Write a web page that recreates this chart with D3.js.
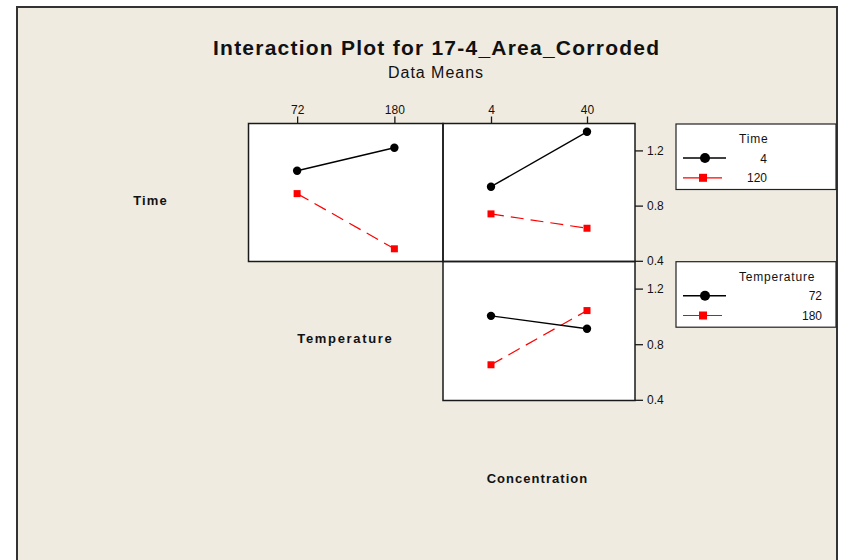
<!DOCTYPE html>
<html>
<head>
<meta charset="utf-8">
<script src="https://cdn.jsdelivr.net/npm/d3@7"></script>
<style>
  body { margin: 0; background: #ffffff; }
  text { font-family: "Liberation Sans", Arial, sans-serif; fill: #111; }
</style>
</head>
<body>
<script>
// ---- Data ----
const timeLevels = ["4", "120"];
const tempLevels = ["72", "180"];
const concLevels = ["4", "40"];
const yTicks = [0.4, 0.8, 1.2];

// Time x Temperature means (rows: Time levels, values at Temperature levels)
const timeByTemp_4   = [1.053, 1.219];
const timeByTemp_120 = [0.887, 0.487];
// Time x Concentration means
const timeByConc_4   = [0.937, 1.335];
const timeByConc_120 = [0.740, 0.636];
// Temperature x Concentration means
const tempByConc_72  = [1.004, 0.911];
const tempByConc_180 = [0.652, 1.042];

const title = "Interaction Plot for 17-4_Area_Corroded";
const subtitle = "Data Means";
const factorNames = ["Time", "Temperature", "Concentration"];

// ---- Layout ----
const W = 855, H = 560;
const beige = "#EFEBE1";
const colEdges = [248.5, 443, 635];
const rowEdges = [123.5, 261.5, 400.5];

const svg = d3.select("body").append("svg").attr("width", W).attr("height", H);

svg.append("rect").attr("x", 17).attr("y", 7).attr("width", 820).attr("height", 600)
  .attr("fill", beige).attr("stroke", "#333").attr("stroke-width", 2);

svg.append("text").attr("x", 436).attr("y", 55).attr("text-anchor", "middle")
  .attr("font-size", 21).attr("font-weight", "bold")
  .attr("textLength", 446).attr("lengthAdjust", "spacing").text(title);
svg.append("text").attr("x", 435.5).attr("y", 78).attr("text-anchor", "middle")
  .attr("font-size", 16).attr("textLength", 95).attr("lengthAdjust", "spacing").text(subtitle);

// Scales
const xTemp = d3.scalePoint().domain(tempLevels).range([colEdges[0], colEdges[1]]).padding(0.5);
const xConc = d3.scalePoint().domain(concLevels).range([colEdges[1], colEdges[2]]).padding(0.5);
const yRow1 = d3.scaleLinear().domain([0.395, 1.395]).range([rowEdges[1], rowEdges[0]]);
const yRow2 = d3.scaleLinear().domain([0.395, 1.395]).range([rowEdges[2], rowEdges[1]]);

// Panels
const panels = [
  {x0: colEdges[0], x1: colEdges[1], y0: rowEdges[0], y1: rowEdges[1], xs: xTemp, ys: yRow1, lv: tempLevels,
   series: [timeByTemp_4, timeByTemp_120]},
  {x0: colEdges[1], x1: colEdges[2], y0: rowEdges[0], y1: rowEdges[1], xs: xConc, ys: yRow1, lv: concLevels,
   series: [timeByConc_4, timeByConc_120]},
  {x0: colEdges[1], x1: colEdges[2], y0: rowEdges[1], y1: rowEdges[2], xs: xConc, ys: yRow2, lv: concLevels,
   series: [tempByConc_72, tempByConc_180]}
];

panels.forEach(p => {
  svg.append("rect").attr("x", p.x0).attr("y", p.y0).attr("width", p.x1 - p.x0).attr("height", p.y1 - p.y0)
    .attr("fill", "#fff");
});

panels.forEach(p => {
  const pts = s => p.lv.map((l, i) => [p.xs(l), p.ys(s[i])]);
  const line = d3.line();
  // red dashed
  const r = pts(p.series[1]);
  svg.append("path").attr("d", line(r)).attr("fill", "none").attr("stroke", "#ff0000")
    .attr("stroke-width", 1.2).attr("stroke-dasharray", "13,7");
  svg.selectAll(null).data(r).enter().append("rect")
    .attr("x", d => d[0] - 3.5).attr("y", d => d[1] - 3.5).attr("width", 7).attr("height", 7).attr("fill", "#ff0000");
  // black solid
  const b = pts(p.series[0]);
  svg.append("path").attr("d", line(b)).attr("fill", "none").attr("stroke", "#000").attr("stroke-width", 1.4);
  svg.selectAll(null).data(b).enter().append("circle")
    .attr("cx", d => d[0]).attr("cy", d => d[1]).attr("r", 4.2).attr("fill", "#000");
});

panels.forEach(p => {
  svg.append("rect").attr("x", p.x0).attr("y", p.y0).attr("width", p.x1 - p.x0).attr("height", p.y1 - p.y0)
    .attr("fill", "none").attr("stroke", "#1a1a1a").attr("stroke-width", 1.5);
});

// Top axes
function styleAxis(g) {
  g.select(".domain").remove();
  g.selectAll("line").attr("stroke", "#1a1a1a").attr("stroke-width", 1.3);
  g.selectAll("text").attr("font-size", 12).attr("fill", "#222")
    .attr("font-family", "'Liberation Sans', Arial, sans-serif");
}
svg.append("g").attr("transform", `translate(0,${rowEdges[0]})`)
  .call(d3.axisTop(xTemp).tickSize(7).tickPadding(3)).call(styleAxis);
svg.append("g").attr("transform", `translate(0,${rowEdges[0]})`)
  .call(d3.axisTop(xConc).tickSize(7).tickPadding(3)).call(styleAxis);

// Right axes
[yRow1, yRow2].forEach(ys => {
  svg.append("g").attr("transform", `translate(${colEdges[2]},0)`)
    .call(d3.axisRight(ys).tickValues(yTicks).tickSize(8).tickPadding(4).tickFormat(d3.format(".1f")))
    .call(styleAxis);
});

// Factor labels (diagonal)
const labelSpec = [
  {x: 150, y: 205, w: 33.4},
  {x: 344.5, y: 343.3, w: 94.4},
  {x: 537, y: 483.3, w: 100.6}
];
factorNames.forEach((n, i) => {
  svg.append("text").attr("x", labelSpec[i].x).attr("y", labelSpec[i].y).attr("text-anchor", "middle")
    .attr("font-size", 13).attr("font-weight", "bold")
    .attr("textLength", labelSpec[i].w).attr("lengthAdjust", "spacing").text(n);
});

// Legends
const legends = [
  {y: 124, title: "Time", levels: timeLevels, right: 767},
  {y: 261.7, title: "Temperature", levels: tempLevels, right: 822}
];
legends.forEach(L => {
  const g = svg.append("g").attr("transform", `translate(676,${L.y})`);
  g.append("rect").attr("width", 160).attr("height", 65.5).attr("fill", "#fff")
    .attr("stroke", "#222").attr("stroke-width", 1.2);
  g.append("text").attr("x", 63).attr("y", 19).attr("font-size", 12)
    .attr("letter-spacing", 0.8).attr("fill", "#222").text(L.title);
  L.levels.forEach((lv, i) => {
    const yy = 34 + i * 19.8;
    if (i === 0) {
      g.append("line").attr("x1", 7).attr("x2", 50).attr("y1", yy).attr("y2", yy).attr("stroke", "#000").attr("stroke-width", 1.4);
      g.append("circle").attr("cx", 29).attr("cy", yy).attr("r", 5).attr("fill", "#000");
    } else {
      g.append("line").attr("x1", 7).attr("x2", 46).attr("y1", yy).attr("y2", yy).attr("stroke", "#ff0000").attr("stroke-width", 1.2);
      g.append("rect").attr("x", 23).attr("y", yy - 4).attr("width", 8).attr("height", 8).attr("fill", "#ff0000");
    }
    g.append("text").attr("x", L.right - 676).attr("y", yy + 4.5).attr("text-anchor", "end")
      .attr("font-size", 12).attr("fill", "#222").text(lv);
  });
});
</script>
</body>
</html>
